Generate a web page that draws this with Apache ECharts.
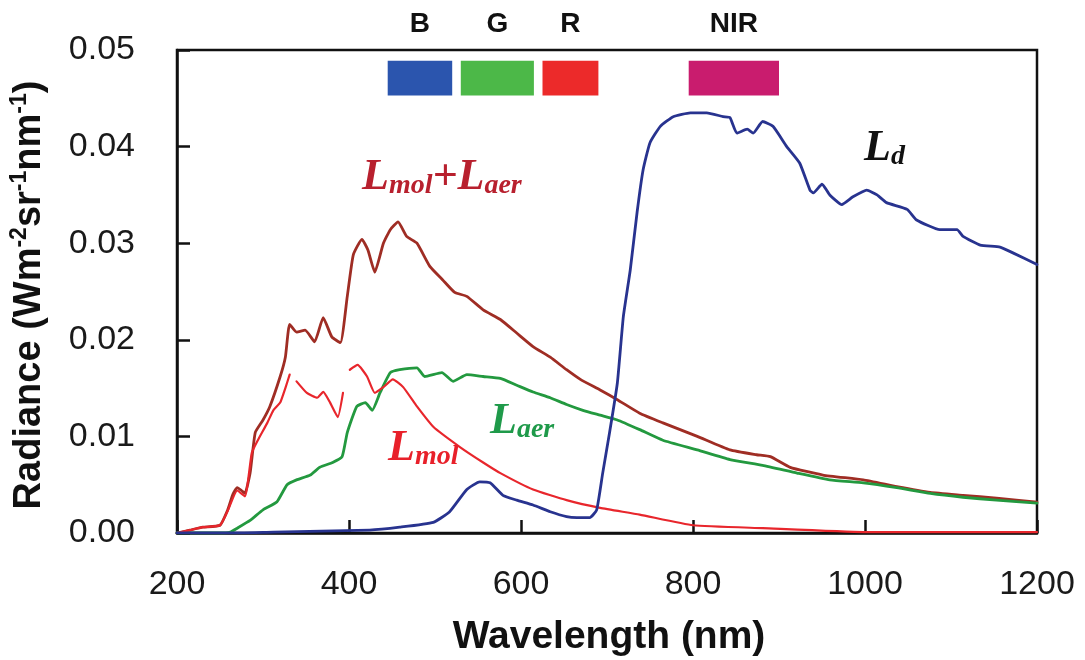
<!DOCTYPE html>
<html>
<head>
<meta charset="utf-8">
<script src="https://cdn.jsdelivr.net/npm/echarts@6/dist/echarts.min.js"></script>
<style>
  html, body { margin: 0; padding: 0; background: #ffffff; }
  #chart { width: 1085px; height: 660px; }
</style>
</head>
<body>
<div id="chart"></div>
<script>
// Path radiance components (W m-2 sr-1 nm-1) versus wavelength (nm)

// L_mol + L_aer (total path radiance)
const sumWl = [200, 215, 230, 250, 259, 265, 270, 275, 279, 285, 291, 300, 308, 320, 326, 331, 339, 349, 360, 370, 380, 390, 398, 405, 415, 422, 430, 440, 448, 457, 467, 479, 494, 509, 523, 537, 556, 576, 595, 614, 634, 653, 669, 692, 712, 738, 765, 805, 843, 874, 890, 913, 951, 998, 1037, 1076, 1114, 1153, 1200];
const sumVal = [0, 0.0003, 0.0006, 0.0008, 0.0024, 0.0040, 0.0047, 0.0044, 0.0041, 0.0062, 0.0104, 0.0117, 0.0131, 0.0162, 0.0182, 0.0216, 0.0208, 0.0210, 0.0198, 0.0223, 0.0203, 0.0197, 0.0245, 0.0288, 0.0304, 0.0293, 0.0270, 0.0300, 0.0314, 0.0322, 0.0307, 0.0300, 0.0276, 0.0262, 0.0249, 0.0245, 0.0231, 0.0221, 0.0207, 0.0193, 0.0182, 0.0169, 0.0159, 0.0148, 0.0138, 0.0124, 0.0114, 0.0100, 0.0086, 0.0081, 0.0079, 0.0068, 0.0060, 0.0055, 0.0048, 0.0042, 0.0039, 0.0036, 0.0032];

// L_aer (aerosol path radiance)
const aerWl = [200, 250, 262, 270, 285, 300, 316, 328, 339, 355, 366, 381, 392, 398, 409, 419, 427, 436, 448, 459, 479, 488, 508, 521, 537, 556, 576, 595, 614, 634, 653, 672, 692, 712, 738, 765, 805, 843, 881, 921, 959, 998, 1037, 1076, 1114, 1153, 1200];
const aerVal = [0, 0, 0.0001, 0.0005, 0.0013, 0.0024, 0.0032, 0.0050, 0.0055, 0.0060, 0.0068, 0.0073, 0.0079, 0.0104, 0.0131, 0.0135, 0.0127, 0.0145, 0.0166, 0.0169, 0.0171, 0.0162, 0.0166, 0.0157, 0.0164, 0.0162, 0.0160, 0.0153, 0.0146, 0.0140, 0.0133, 0.0127, 0.0122, 0.0117, 0.0107, 0.0096, 0.0086, 0.0076, 0.0070, 0.0062, 0.0055, 0.0052, 0.0047, 0.0041, 0.0037, 0.0034, 0.0031];

// L_mol (molecular path radiance); '-' marks breaks in the trace
const molWl = [200, 215, 230, 250, 259, 270, 279, 287, 294, 305, 312, 320, 326, 331, 334, 339, 351, 363, 370, 378, 387, 393, 396, 401, 410, 421, 430, 440, 451, 463, 479, 498, 529, 556, 576, 614, 653, 692, 738, 800, 881, 998, 1100, 1200];
const molVal = [0, 0.0003, 0.0006, 0.0008, 0.0023, 0.0044, 0.0038, 0.0083, 0.0096, 0.0114, 0.0127, 0.0135, 0.0150, 0.0164, '-', 0.0157, 0.0145, 0.0140, 0.0146, 0.0135, 0.0120, 0.0145, '-', 0.0169, 0.0174, 0.0162, 0.0145, 0.0151, 0.0159, 0.0151, 0.0131, 0.0110, 0.0089, 0.0073, 0.0062, 0.0045, 0.0034, 0.0026, 0.0019, 0.0008, 0.0005, 0.0001, 0.0001, 0.0001];

// L_d (radiance of the target)
const dWl = [200, 260, 312, 424, 459, 498, 517, 537, 552, 564, 579, 595, 614, 634, 653, 665, 680, 688, 695, 703, 712, 719, 727, 735, 742, 750, 762, 777, 797, 816, 835, 843, 851, 863, 870, 881, 893, 909, 924, 936, 940, 950, 959, 973, 986, 1002, 1014, 1025, 1049, 1060, 1087, 1107, 1114, 1134, 1157, 1172, 1200];
const dVal = [0, 0, 0.0001, 0.0003, 0.0006, 0.0011, 0.0022, 0.0045, 0.0053, 0.0052, 0.0039, 0.0034, 0.0029, 0.0022, 0.0017, 0.0016, 0.0016, 0.0024, 0.0062, 0.0104, 0.0155, 0.0224, 0.0272, 0.0332, 0.0376, 0.0404, 0.0421, 0.0431, 0.0435, 0.0435, 0.0431, 0.0430, 0.0414, 0.0418, 0.0414, 0.0426, 0.0421, 0.0400, 0.0383, 0.0355, 0.0352, 0.0361, 0.0350, 0.0340, 0.0348, 0.0355, 0.0350, 0.0342, 0.0335, 0.0324, 0.0314, 0.0314, 0.0307, 0.0298, 0.0296, 0.0290, 0.0278];

// Sensor spectral bands (nm)
const bandNames = ['B', 'G', 'R', 'NIR'];
const bandStart = [445, 530, 625, 795];
const bandEnd = [520, 615, 690, 900];

// Axis ticks
const xTicks = [200, 400, 600, 800, 1000, 1200];
const yTicks = [0.00, 0.01, 0.02, 0.03, 0.04, 0.05];

// Styling constants
const BAND_COLORS = ['#2b55ae', '#4cb848', '#ec2a2a', '#c91c6e'];
const BAND_Y = [0.0453, 0.0489];
const COL_SUM = '#9f2d24';
const COL_AER = '#23993f';
const COL_MOL = '#e8262c';
const COL_D = '#28338f';
const AXIS_COL = '#111111';

const toPairs = (xs, ys) => xs.map((x, i) => [x, ys[i]]);
const lineSeries = (name, xs, ys, color, width, z) => ({
  type: 'line', name, data: toPairs(xs, ys),
  showSymbol: false, symbol: 'none', connectNulls: false,
  smooth: 0.15,
  lineStyle: { color, width, join: 'round', cap: 'round' }, itemStyle: { color }, z
});

const chart = echarts.init(document.getElementById('chart'), null, { renderer: 'canvas' });

const labelFont = { fontFamily: 'Liberation Sans', fontSize: 34, color: '#1a1a1a' };
const serifMain = (color) => ({ fontFamily: 'Liberation Serif', fontStyle: 'italic', fontWeight: 'bold', fontSize: 44, lineHeight: 44, verticalAlign: 'top', padding: [0, 0, 7, 0], fill: color });
const serifSub = (color) => ({ fontFamily: 'Liberation Serif', fontStyle: 'italic', fontWeight: 'bold', fontSize: 28, lineHeight: 28, verticalAlign: 'bottom', fill: color });
const curveLabel = (text, x, y, color) => ({
  type: 'text', x, y, z: 10,
  style: {
    text, align: 'left', verticalAlign: 'top', fill: color,
    rich: { L: serifMain(color), s: serifSub(color) }
  }
});

chart.setOption({
  animation: false,
  backgroundColor: '#ffffff',
  grid: { left: 177, right: 48, top: 50, bottom: 127, show: true, borderColor: AXIS_COL, borderWidth: 2.5, backgroundColor: 'transparent' },
  xAxis: {
    type: 'value', min: xTicks[0], max: xTicks[xTicks.length - 1], interval: 200,
    axisLine: { show: true, onZero: false, lineStyle: { color: AXIS_COL, width: 2.5 } },
    axisTick: { show: true, inside: true, length: 13, lineStyle: { color: AXIS_COL, width: 2.5 } },
    splitLine: { show: false },
    axisLabel: Object.assign({ margin: 35, formatter: v => String(v) }, labelFont)
  },
  yAxis: {
    type: 'value', min: yTicks[0], max: yTicks[yTicks.length - 1], interval: 0.01,
    axisLine: { show: true, onZero: false, lineStyle: { color: AXIS_COL, width: 2.5 } },
    axisTick: { show: true, inside: true, length: 13, lineStyle: { color: AXIS_COL, width: 2.5 } },
    splitLine: { show: false },
    axisLabel: Object.assign({ margin: 42, formatter: v => v.toFixed(2) }, labelFont)
  },
  series: [
    lineSeries('Lmol+Laer', sumWl, sumVal, COL_SUM, 2.8, 2),
    lineSeries('Laer', aerWl, aerVal, COL_AER, 2.8, 3),
    lineSeries('Lmol', molWl, molVal, COL_MOL, 2.2, 4),
    lineSeries('Ld', dWl, dVal, COL_D, 2.8, 5),
    {
      type: 'custom', name: 'bands', clip: false, z: 6,
      data: bandNames.map((n, i) => [bandStart[i], bandEnd[i], i]),
      renderItem: (params, api) => {
        const i = api.value(2);
        const p0 = api.coord([api.value(0), BAND_Y[1]]);
        const p1 = api.coord([api.value(1), BAND_Y[0]]);
        return {
          type: 'group',
          children: [
            { type: 'rect', shape: { x: p0[0], y: p0[1], width: p1[0] - p0[0], height: p1[1] - p0[1] }, style: { fill: BAND_COLORS[i] } },
            { type: 'text', x: (p0[0] + p1[0]) / 2, y: p0[1] - 36, style: { text: bandNames[i], fill: '#111', font: 'bold 28px "Liberation Sans"', align: 'center', verticalAlign: 'middle' } }
          ]
        };
      }
    }
  ],
  graphic: [
    {
      type: 'text', x: 30, y: 295, rotation: Math.PI / 2, z: 10,
      style: {
        text: '{a|Radiance (Wm}{s|-2}{a|sr}{s|-1}{a|nm}{s|-1}{a|)}',
        align: 'center', verticalAlign: 'middle',
        rich: {
          a: { fontFamily: 'Liberation Sans', fontWeight: 'bold', fontSize: 38, lineHeight: 44, fill: '#111' },
          s: { fontFamily: 'Liberation Sans', fontWeight: 'bold', fontSize: 23, lineHeight: 23, verticalAlign: 'top', fill: '#111' }
        }
      }
    },
    {
      type: 'text', x: 609, y: 637, z: 10,
      style: { text: 'Wavelength (nm)', font: 'bold 39px "Liberation Sans"', fill: '#111', align: 'center', verticalAlign: 'middle' }
    },
    curveLabel('{L|L}{s|mol}{L|+L}{s|aer}', 362, 156, '#b8202e'),
    curveLabel('{L|L}{s|d}', 864, 127, '#111111'),
    curveLabel('{L|L}{s|aer}', 490, 400, '#1f9a4a'),
    curveLabel('{L|L}{s|mol}', 388, 427, '#e8202a')
  ]
});
</script>
</body>
</html>
